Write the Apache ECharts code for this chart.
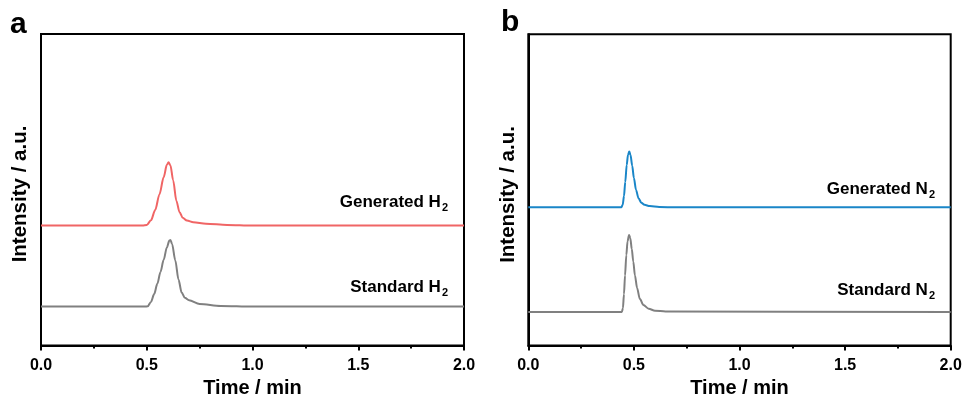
<!DOCTYPE html>
<html>
<head>
<meta charset="utf-8">
<script src="https://cdn.jsdelivr.net/npm/echarts@6/dist/echarts.min.js"></script>
<style>html,body{margin:0;padding:0;background:#fff}#c{width:963px;height:396px}</style>
</head>
<body>
<div id="c"></div>
<script>
// ---- Data ----
const xTicks = ['0.0', '0.5', '1.0', '1.5', '2.0'];

const genH2_t = [0, 0.48, 0.50, 0.52, 0.54, 0.56, 0.58, 0.595, 0.603, 0.612, 0.625, 0.64, 0.655, 0.67, 0.69, 0.72, 0.78, 0.88, 1.0, 2.0];
const genH2_v = [38.5, 38.5, 38.7, 40.2, 43.5, 48.5, 54.0, 58.0, 58.8, 57.8, 53.0, 46.5, 42.8, 41.0, 40.1, 39.6, 39.1, 38.7, 38.5, 38.5];

const stdH2_t = [0, 0.49, 0.505, 0.52, 0.535, 0.55, 0.565, 0.58, 0.595, 0.607, 0.612, 0.62, 0.635, 0.65, 0.665, 0.68, 0.70, 0.75, 0.85, 1.0, 2.0];
const stdH2_v = [12.5, 12.5, 12.6, 14.0, 16.5, 19.8, 23.6, 27.5, 31.5, 33.7, 33.9, 32.5, 27.3, 21.2, 17.0, 15.3, 14.5, 13.3, 12.7, 12.5, 12.5];

const genN2_t = [0, 0.44, 0.447, 0.453, 0.459, 0.466, 0.472, 0.478, 0.484, 0.492, 0.50, 0.51, 0.522, 0.535, 0.55, 0.575, 0.62, 0.70, 2.0];
const genN2_v = [44.4, 44.4, 45.2, 48.0, 52.5, 58.0, 61.3, 62.3, 61.2, 57.8, 53.8, 50.0, 47.3, 45.9, 45.2, 44.8, 44.5, 44.4, 44.4];

const stdN2_t = [0, 0.443, 0.448, 0.453, 0.458, 0.464, 0.47, 0.477, 0.483, 0.49, 0.497, 0.505, 0.515, 0.528, 0.545, 0.57, 0.60, 0.65, 2.0];
const stdN2_v = [10.8, 10.8, 12.0, 16.5, 22.5, 29.0, 33.5, 35.5, 34.5, 31.0, 27.0, 22.5, 18.5, 15.0, 13.0, 11.8, 11.2, 10.9, 10.8];

const labelsA = ['Generated H', 'Standard H'];
const labelsB = ['Generated N', 'Standard N'];

// ---- Chart ----
const FONT = '"Liberation Sans", Arial, Helvetica, sans-serif';
const pairs = (t, v) => t.map((x, i) => [x, v[i]]);

function xAxis(gi) {
  return {
    type: 'value', gridIndex: gi, min: 0, max: 2, interval: 0.5,
    axisLine: { show: true, lineStyle: { color: '#000', width: 2 } },
    axisTick: { show: true, inside: false, length: 5, lineStyle: { color: '#000', width: 2 } },
    minorTick: { show: true, splitNumber: 2, length: 3, lineStyle: { color: '#000', width: 2 } },
    splitLine: { show: false },
    axisLabel: {
      margin: 12, color: '#000', fontSize: 16, fontWeight: 'bold', fontFamily: FONT,
      formatter: v => xTicks[Math.round(v / 0.5)]
    },
    name: 'Time / min', nameLocation: 'middle', nameGap: 31,
    nameTextStyle: { color: '#000', fontSize: 20, fontWeight: 'bold', fontFamily: FONT }
  };
}
function yAxis(gi) {
  return {
    type: 'value', gridIndex: gi, min: 0, max: 100,
    axisLine: { show: true, lineStyle: { color: '#000', width: 2 } },
    axisTick: { show: false }, axisLabel: { show: false }, splitLine: { show: false }
  };
}
function line(gi, data, color) {
  return {
    type: 'line', xAxisIndex: gi, yAxisIndex: gi, data: data,
    showSymbol: false, smooth: 0.3, smoothMonotone: 'x',
    lineStyle: { color: color, width: 2 }, silent: true, animation: false
  };
}
function lab(x, y, main) {
  return {
    type: 'text', x: x, y: y, silent: true,
    style: {
      text: '{m|' + main + '}{s|2}', align: 'right', verticalAlign: 'middle',
      rich: {
        m: { fontSize: 17, fontWeight: 'bold', fontFamily: FONT, fill: '#000', lineHeight: 22 },
        s: { fontSize: 11, fontWeight: 'bold', fontFamily: FONT, fill: '#000', lineHeight: 11, verticalAlign: 'bottom', padding: [0, 0, 0, 1] }
      }
    }
  };
}
function ytitle(x, y) {
  return {
    type: 'text', x: x, y: y, rotation: Math.PI / 2, silent: true,
    style: { text: 'Intensity / a.u.', align: 'center', verticalAlign: 'middle', fontSize: 20.5, fontWeight: 'bold', fontFamily: FONT, fill: '#000' }
  };
}

const chart = echarts.init(document.getElementById('c'), null, { renderer: 'canvas' });
chart.setOption({
  animation: false,
  backgroundColor: '#fff',
  grid: [
    { left: 41, right: 499, top: 34, bottom: 50.5, outerBoundsMode: 'none', containLabel: false, show: true, borderColor: '#000', borderWidth: 2, backgroundColor: 'transparent' },
    { left: 528.3, right: 12.3, top: 34.3, bottom: 50.5, outerBoundsMode: 'none', containLabel: false, show: true, borderColor: '#000', borderWidth: 2, backgroundColor: 'transparent' }
  ],
  xAxis: [xAxis(0), xAxis(1)],
  yAxis: [yAxis(0), yAxis(1)],
  series: [
    line(0, pairs(genH2_t, genH2_v), '#F06565'),
    line(0, pairs(stdH2_t, stdH2_v), '#808080'),
    line(1, pairs(genN2_t, genN2_v), '#1A86C8'),
    line(1, pairs(stdN2_t, stdN2_v), '#808080')
  ],
  graphic: [
    { type: 'text', x: 10, y: 25, silent: true, style: { text: 'a', verticalAlign: 'middle', fontSize: 30, fontWeight: 'bold', fontFamily: FONT, fill: '#000' } },
    { type: 'text', x: 501, y: 23, silent: true, style: { text: 'b', verticalAlign: 'middle', fontSize: 30, fontWeight: 'bold', fontFamily: FONT, fill: '#000' } },
    ytitle(20, 194),
    ytitle(508, 194.5),
    lab(448, 202, labelsA[0]),
    lab(448, 287, labelsA[1]),
    lab(935, 189, labelsB[0]),
    lab(935, 290, labelsB[1])
  ]
});
</script>
</body>
</html>
